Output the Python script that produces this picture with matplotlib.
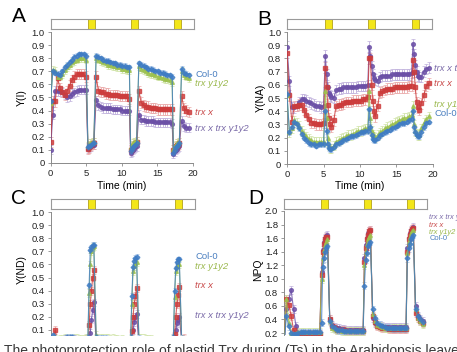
import matplotlib
matplotlib.use("Agg")
import matplotlib.pyplot as plt
from matplotlib.ticker import FuncFormatter, MultipleLocator
from matplotlib.patches import Rectangle

plt.rcParams['font.family'] = ['Liberation Sans', 'DejaVu Sans']

# ---------------- data ----------------
time_min = [0, 0.33, 0.67, 1.0, 1.33, 1.67, 2.0, 2.33, 2.67, 3.0, 3.33, 3.67, 4.0, 4.33, 4.67, 5.0,
            5.25, 5.42, 5.58, 5.75, 5.92, 6.08,
            6.4, 6.73, 7.07, 7.4, 7.73, 8.07, 8.4, 8.73, 9.07, 9.4, 9.73, 10.07, 10.4, 10.73, 11.07,
            11.25, 11.42, 11.58, 11.75, 11.92, 12.08,
            12.4, 12.73, 13.07, 13.4, 13.73, 14.07, 14.4, 14.73, 15.07, 15.4, 15.73, 16.07, 16.4, 16.73, 17.07,
            17.25, 17.42, 17.58, 17.75, 17.92, 18.08,
            18.4, 18.73, 19.07, 19.4]

light_periods = [(5.2, 6.2), (11.15, 12.15), (17.2, 18.2)]

genotypes = ['Col-0', 'trx y1y2', 'trx x', 'trx x trx y1y2']

# Panel A: Y(I)
yI_col0 = [0.47, 0.70, 0.69, 0.68, 0.67, 0.70, 0.73, 0.75, 0.77, 0.79, 0.81, 0.82, 0.83, 0.83, 0.83, 0.82,
           0.12, 0.13, 0.13, 0.14, 0.15, 0.15,
           0.82, 0.81, 0.80, 0.79, 0.78, 0.78, 0.77, 0.76, 0.76, 0.75, 0.75, 0.74, 0.74, 0.73, 0.73,
           0.09, 0.11, 0.12, 0.13, 0.14, 0.15,
           0.76, 0.75, 0.74, 0.73, 0.72, 0.72, 0.71, 0.70, 0.70, 0.69, 0.69, 0.68, 0.67, 0.67, 0.66,
           0.08, 0.10, 0.12, 0.13, 0.14, 0.15,
           0.72, 0.69, 0.68, 0.67]
yI_y1y2 = [0.46, 0.71, 0.70, 0.66, 0.66, 0.68, 0.71, 0.73, 0.75, 0.77, 0.78, 0.79, 0.80, 0.80, 0.80, 0.79,
           0.13, 0.14, 0.15, 0.15, 0.16, 0.16,
           0.80, 0.79, 0.78, 0.77, 0.76, 0.75, 0.75, 0.74, 0.74, 0.73, 0.73, 0.72, 0.72, 0.71, 0.71,
           0.12, 0.14, 0.15, 0.16, 0.16, 0.17,
           0.74, 0.72, 0.71, 0.70, 0.69, 0.68, 0.68, 0.67, 0.66, 0.66, 0.65, 0.64, 0.64, 0.63, 0.62,
           0.11, 0.13, 0.14, 0.15, 0.15, 0.16,
           0.70, 0.67, 0.66, 0.65]
yI_x = [0.16, 0.47, 0.47, 0.65, 0.57, 0.54, 0.52, 0.55, 0.59, 0.63, 0.66, 0.68, 0.68, 0.68, 0.68, 0.66,
        0.11, 0.12, 0.13, 0.14, 0.15, 0.15,
        0.66, 0.55, 0.54, 0.54, 0.53, 0.53, 0.52, 0.52, 0.52, 0.52, 0.51, 0.51, 0.51, 0.51, 0.49,
        0.10, 0.12, 0.13, 0.14, 0.15, 0.16,
        0.55, 0.46, 0.44, 0.43, 0.43, 0.42, 0.42, 0.42, 0.41, 0.41, 0.41, 0.41, 0.41, 0.41, 0.41,
        0.10, 0.12, 0.13, 0.14, 0.14, 0.15,
        0.51, 0.42, 0.40, 0.39]
yI_xy = [0.10, 0.37, 0.55, 0.55, 0.55, 0.54, 0.52, 0.50, 0.51, 0.53, 0.54, 0.55, 0.56, 0.56, 0.56, 0.56,
         0.11, 0.12, 0.13, 0.13, 0.14, 0.14,
         0.48, 0.44, 0.43, 0.42, 0.42, 0.42, 0.42, 0.41, 0.41, 0.41, 0.41, 0.40, 0.40, 0.40, 0.40,
         0.08, 0.09, 0.10, 0.11, 0.12, 0.13,
         0.37, 0.33, 0.33, 0.32, 0.32, 0.32, 0.32, 0.31, 0.31, 0.31, 0.31, 0.31, 0.31, 0.31, 0.30,
         0.07, 0.09, 0.10, 0.11, 0.12, 0.13,
         0.32, 0.28, 0.27, 0.27]

# Panel B: Y(NA)
yNA_col0 = [0.53, 0.24, 0.28, 0.32, 0.30, 0.27, 0.23, 0.20, 0.18, 0.16, 0.15, 0.15, 0.14, 0.15, 0.15, 0.15,
            0.40, 0.25, 0.15, 0.12, 0.11, 0.11,
            0.13, 0.15, 0.16, 0.17, 0.18, 0.19, 0.20, 0.21, 0.21, 0.22, 0.23, 0.24, 0.24, 0.25, 0.25,
            0.42, 0.28, 0.22, 0.19, 0.18, 0.18,
            0.20, 0.22, 0.23, 0.24, 0.25, 0.26, 0.27, 0.28, 0.29, 0.30, 0.31, 0.31, 0.32, 0.33, 0.34,
            0.40, 0.28, 0.24, 0.22, 0.21, 0.21,
            0.24, 0.28, 0.31, 0.32]
yNA_y1y2 = [0.52, 0.24, 0.27, 0.33, 0.31, 0.29, 0.25, 0.23, 0.21, 0.19, 0.18, 0.17, 0.17, 0.17, 0.17, 0.17,
            0.55, 0.35, 0.20, 0.14, 0.12, 0.12,
            0.14, 0.17, 0.18, 0.19, 0.20, 0.21, 0.22, 0.22, 0.23, 0.24, 0.25, 0.25, 0.26, 0.27, 0.27,
            0.55, 0.35, 0.25, 0.22, 0.21, 0.20,
            0.22, 0.24, 0.25, 0.27, 0.28, 0.29, 0.30, 0.31, 0.32, 0.33, 0.34, 0.35, 0.35, 0.36, 0.37,
            0.44, 0.30, 0.25, 0.23, 0.22, 0.22,
            0.27, 0.31, 0.34, 0.36]
yNA_x = [0.84, 0.52, 0.32, 0.44, 0.44, 0.45, 0.45, 0.41, 0.37, 0.34, 0.31, 0.31, 0.30, 0.30, 0.30, 0.31,
         0.73, 0.58, 0.45, 0.35, 0.30, 0.28,
         0.33, 0.44, 0.45, 0.45, 0.46, 0.47, 0.47, 0.47, 0.48, 0.48, 0.48, 0.48, 0.49, 0.49, 0.51,
         0.80, 0.80, 0.60, 0.48, 0.40, 0.36,
         0.44, 0.54, 0.55, 0.56, 0.57, 0.57, 0.57, 0.58, 0.58, 0.58, 0.58, 0.58, 0.58, 0.59, 0.59,
         0.79, 0.70, 0.58, 0.47, 0.43, 0.41,
         0.46, 0.52, 0.59, 0.61]
yNA_xy = [0.89, 0.63, 0.43, 0.43, 0.44, 0.47, 0.49, 0.49, 0.48, 0.47, 0.46, 0.45, 0.44, 0.44, 0.43, 0.44,
          0.82, 0.68, 0.58, 0.54, 0.52, 0.51,
          0.50, 0.56, 0.57, 0.57, 0.58, 0.58, 0.58, 0.58, 0.58, 0.58, 0.59, 0.59, 0.59, 0.59, 0.60,
          0.89, 0.82, 0.74, 0.68, 0.65, 0.64,
          0.63, 0.66, 0.67, 0.67, 0.67, 0.67, 0.68, 0.68, 0.68, 0.68, 0.68, 0.68, 0.68, 0.68, 0.69,
          0.91, 0.83, 0.75, 0.70, 0.67, 0.66,
          0.66, 0.70, 0.72, 0.73]

# Panel C: Y(ND)
yND_col0 = [0.0, 0.06, 0.03, 0.0, 0.03, 0.03, 0.04, 0.05, 0.05, 0.05, 0.04, 0.03, 0.03, 0.02, 0.02, 0.03,
            0.05, 0.44, 0.71, 0.73, 0.75, 0.75,
            0.05, 0.04, 0.04, 0.04, 0.04, 0.03, 0.03, 0.03, 0.03, 0.03, 0.02, 0.02, 0.02, 0.02, 0.02,
            0.05, 0.36, 0.58, 0.63, 0.65, 0.66,
            0.04, 0.03, 0.03, 0.03, 0.03, 0.02, 0.02, 0.02, 0.01, 0.01, 0.0, 0.01, 0.01, 0.0, 0.0,
            0.05, 0.40, 0.57, 0.62, 0.64, 0.64,
            0.04, 0.03, 0.01, 0.01]
yND_y1y2 = [0.02, 0.05, 0.03, 0.01, 0.03, 0.03, 0.04, 0.04, 0.04, 0.04, 0.04, 0.04, 0.03, 0.03, 0.03, 0.04,
            0.03, 0.38, 0.60, 0.70, 0.73, 0.74,
            0.06, 0.04, 0.04, 0.04, 0.04, 0.04, 0.03, 0.04, 0.03, 0.03, 0.02, 0.03, 0.02, 0.02, 0.02,
            0.03, 0.30, 0.55, 0.59, 0.61, 0.62,
            0.04, 0.04, 0.04, 0.03, 0.03, 0.03, 0.02, 0.02, 0.02, 0.01, 0.01, 0.01, 0.01, 0.01, 0.01,
            0.03, 0.35, 0.55, 0.59, 0.60, 0.60,
            0.03, 0.02, 0.0, 0.0]
yND_x = [0.0, 0.01, 0.10, 0.0, 0.0, 0.01, 0.03, 0.04, 0.04, 0.03, 0.03, 0.01, 0.02, 0.02, 0.02, 0.03,
         0.0, 0.14, 0.30, 0.40, 0.50, 0.56,
         0.01, 0.01, 0.01, 0.01, 0.01, 0.0, 0.01, 0.01, 0.0, 0.0, 0.01, 0.01, 0.0, 0.0, 0.0,
         0.0, 0.09, 0.20, 0.30, 0.36, 0.42,
         0.01, 0.0, 0.01, 0.01, 0.0, 0.01, 0.01, 0.0, 0.01, 0.01, 0.01, 0.01, 0.01, 0.0, 0.0,
         0.0, 0.07, 0.20, 0.30, 0.37, 0.43,
         0.03, 0.04, 0.01, 0.0]
yND_xy = [0.01, 0.0, 0.02, 0.02, 0.01, 0.0, 0.0, 0.01, 0.01, 0.0, 0.0, 0.0, 0.0, 0.0, 0.0, 0.0,
          0.0, 0.02, 0.08, 0.18, 0.25, 0.31,
          0.02, 0.0, 0.0, 0.01, 0.0, 0.0, 0.0, 0.01, 0.01, 0.01, 0.0, 0.01, 0.01, 0.01, 0.0,
          0.0, 0.04, 0.10, 0.16, 0.20, 0.22,
          0.0, 0.01, 0.0, 0.01, 0.01, 0.0, 0.0, 0.01, 0.0, 0.0, 0.0, 0.0, 0.0, 0.0, 0.01,
          0.0, 0.05, 0.10, 0.15, 0.18, 0.20,
          0.02, 0.02, 0.01, 0.0]

# Panel D: NPQ
npq_col0 = [0.0, 0.45, 0.30, 0.20, 0.19, 0.19, 0.20, 0.21, 0.21, 0.21, 0.21, 0.21, 0.21, 0.21, 0.21, 0.21,
            0.35, 1.18, 1.30, 1.40, 1.45, 1.48,
            0.38, 0.30, 0.27, 0.25, 0.24, 0.24, 0.23, 0.23, 0.23, 0.23, 0.23, 0.23, 0.23, 0.23, 0.23,
            0.90, 1.28, 1.38, 1.48, 1.52, 1.55,
            0.55, 0.42, 0.35, 0.32, 0.30, 0.29, 0.28, 0.28, 0.27, 0.27, 0.27, 0.27, 0.27, 0.27, 0.27,
            1.30, 1.45, 1.52, 1.58, 1.62, 1.65,
            0.55, 0.45, 0.40, 0.36]
npq_y1y2 = [0.0, 0.70, 0.35, 0.20, 0.19, 0.20, 0.21, 0.22, 0.22, 0.22, 0.22, 0.22, 0.22, 0.22, 0.22, 0.22,
            1.00, 1.30, 1.42, 1.50, 1.55, 1.58,
            0.38, 0.28, 0.26, 0.24, 0.24, 0.23, 0.23, 0.23, 0.23, 0.23, 0.23, 0.23, 0.23, 0.23, 0.23,
            1.20, 1.40, 1.52, 1.58, 1.62, 1.65,
            0.48, 0.38, 0.32, 0.30, 0.29, 0.28, 0.28, 0.27, 0.27, 0.27, 0.27, 0.27, 0.27, 0.27, 0.27,
            1.38, 1.55, 1.62, 1.67, 1.70, 1.72,
            0.55, 0.42, 0.38, 0.34]
npq_x = [0.0, 0.70, 0.62, 0.45, 0.25, 0.20, 0.19, 0.19, 0.19, 0.19, 0.19, 0.19, 0.19, 0.19, 0.19, 0.19,
         1.05, 1.40, 1.52, 1.58, 1.62, 1.62,
         0.40, 0.30, 0.27, 0.25, 0.24, 0.24, 0.24, 0.23, 0.23, 0.23, 0.23, 0.23, 0.23, 0.23, 0.23,
         1.25, 1.45, 1.58, 1.65, 1.70, 1.72,
         0.45, 0.36, 0.31, 0.29, 0.28, 0.27, 0.27, 0.26, 0.26, 0.26, 0.26, 0.26, 0.26, 0.26, 0.26,
         1.40, 1.58, 1.65, 1.70, 1.74, 1.75,
         0.50, 0.42, 0.38, 0.35]
npq_xy = [0.0, 0.55, 0.70, 0.84, 0.55, 0.30, 0.20, 0.19, 0.19, 0.19, 0.19, 0.19, 0.19, 0.19, 0.19, 0.19,
          1.10, 1.42, 1.55, 1.60, 1.63, 1.65,
          0.40, 0.32, 0.29, 0.28, 0.27, 0.26, 0.26, 0.25, 0.25, 0.25, 0.25, 0.25, 0.25, 0.25, 0.25,
          1.30, 1.50, 1.60, 1.67, 1.70, 1.72,
          0.42, 0.35, 0.32, 0.31, 0.30, 0.29, 0.29, 0.29, 0.29, 0.29, 0.29, 0.29, 0.29, 0.29, 0.29,
          1.45, 1.60, 1.68, 1.72, 1.74, 1.76,
          0.60, 0.45, 0.40, 0.38]

# typical error bar size per genotype (Col-0, trx y1y2, trx x, trx x trx y1y2)
err_I = [0.02, 0.03, 0.04, 0.035]
err_NA = [0.02, 0.035, 0.04, 0.04]
err_ND = [0.02, 0.03, 0.03, 0.03]
err_NPQ = [0.05, 0.06, 0.06, 0.06]

caption = 'The photoprotection role of plastid Trx during (Ts) in the Arabidopsis leaves'

# ---------------- style ----------------
colors = ['#3f7cc4', '#9cc14e', '#cc3b3b', '#6b4fa6']
light_colors = ['#a6c3e8', '#cfe3a6', '#eaa8a8', '#bfb0dc']
markers = ['D', '^', 's', 'o']
msizes = [2.4, 2.7, 2.7, 2.7]
label_colors = ['#4a7fc0', '#9ab84c', '#c84848', '#7a6aa8']

W, H = 457, 352
fig = plt.figure(figsize=(W / 100, H / 100), dpi=100)


def px_axes(left, top, right, bottom):
    return fig.add_axes([left / W, (H - bottom) / H, (right - left) / W, (bottom - top) / H])


def style_axes(ax, show_x=True):
    for s in ['top', 'right']:
        ax.spines[s].set_visible(False)
    ax.spines['left'].set_color('#8a8a8a')
    ax.spines['left'].set_linewidth(0.7)
    ax.spines['bottom'].set_color('#8a8a8a')
    ax.spines['bottom'].set_linewidth(0.7)
    ax.tick_params(axis='both', labelsize=6.8, colors='#8a8a8a', labelcolor='#222222',
                   length=2.2, width=0.6, pad=2)
    if not show_x:
        ax.spines['bottom'].set_visible(False)
        ax.tick_params(axis='x', bottom=False, labelbottom=False)
    ax.patch.set_alpha(0)


def draw_series(ax, ys, errs):
    order = [3, 2, 1, 0]
    for i in order:
        ax.errorbar(time_min, ys[i], yerr=errs[i], fmt='none', ecolor=light_colors[i],
                    elinewidth=0.6, capsize=1.2, capthick=0.5, zorder=2)
    for i in order:
        ax.plot(time_min, ys[i], color=colors[i], lw=0.8, alpha=0.8,
                marker=markers[i], ms=msizes[i], mec=colors[i], mfc=colors[i], zorder=3)


def light_bar(left, top, right, bottom):
    bx = px_axes(left, top, right, bottom)
    bx.set_xlim(0, 20)
    bx.set_ylim(0, 1)
    bx.set_xticks([])
    bx.set_yticks([])
    for s in bx.spines.values():
        s.set_color('#9a9a9a')
        s.set_linewidth(0.8)
    for (a, b) in light_periods:
        bx.add_patch(Rectangle((a, 0), b - a, 1, facecolor='#f3e61a', edgecolor='#b5a21a', lw=0.6))


fmt1 = FuncFormatter(lambda v, p: '0' if abs(v) < 1e-9 else f'{v:.1f}')

# ---------------- Panel A ----------------
axA = px_axes(50.5, 32, 193, 163)
draw_series(axA, [yI_col0, yI_y1y2, yI_x, yI_xy], err_I)
axA.set_xlim(0, 20)
axA.set_ylim(0, 1.0)
axA.yaxis.set_major_locator(MultipleLocator(0.1))
axA.yaxis.set_major_formatter(fmt1)
axA.set_xticks([0, 5, 10, 15, 20])
style_axes(axA)
light_bar(50.5, 19, 194, 29)
labA_y = [0.672, 0.608, 0.384, 0.265]
for i in range(4):
    axA.text(20.3, labA_y[i], genotypes[i], color=label_colors[i], fontsize=6.8,
             style='normal' if i == 0 else 'italic', va='center', ha='left', clip_on=False)

# ---------------- Panel B ----------------
axB = px_axes(287, 32, 433, 164)
draw_series(axB, [yNA_col0, yNA_y1y2, yNA_x, yNA_xy], err_NA)
axB.set_xlim(0, 20)
axB.set_ylim(0, 1.0)
axB.yaxis.set_major_locator(MultipleLocator(0.1))
axB.yaxis.set_major_formatter(fmt1)
axB.set_xticks([0, 5, 10, 15, 20])
style_axes(axB)
light_bar(287, 19, 432, 29)
labB_y = [0.38, 0.45, 0.61, 0.727]
for i in range(4):
    axB.text(20.15, labB_y[i], genotypes[i], color=label_colors[i], fontsize=6.8,
             style='normal' if i == 0 else 'italic', va='center', ha='left', clip_on=False)

# ---------------- Panel C ----------------
c_bottom_val = 0.1 - (335 - 330) / 131.0
axC = px_axes(50.5, 212, 193, 335)
draw_series(axC, [yND_col0, yND_y1y2, yND_x, yND_xy], err_ND)
axC.set_xlim(0, 20)
axC.set_ylim(c_bottom_val, 1.0)
axC.set_yticks([0.1, 0.2, 0.3, 0.4, 0.5, 0.6, 0.7, 0.8, 0.9, 1.0])
axC.yaxis.set_major_formatter(fmt1)
style_axes(axC, show_x=False)
light_bar(50.5, 199, 195, 209)
labC_y = [0.664, 0.588, 0.443, 0.214]
for i in range(4):
    axC.text(20.3, labC_y[i], genotypes[i], color=label_colors[i], fontsize=6.8,
             style='normal' if i == 0 else 'italic', va='center', ha='left', clip_on=False)

# ---------------- Panel D ----------------
d_bottom_val = 0.2 - (335 - 333) / 67.8
axD = px_axes(284, 211, 427, 335)
draw_series(axD, [npq_col0, npq_y1y2, npq_x, npq_xy], err_NPQ)
axD.set_xlim(0, 20)
axD.set_ylim(d_bottom_val, 2.0)
axD.set_yticks([0.2, 0.4, 0.6, 0.8, 1.0, 1.2, 1.4, 1.6, 1.8, 2.0])
axD.yaxis.set_major_formatter(fmt1)
style_axes(axD, show_x=False)
light_bar(284, 199, 427, 209)
labD_y = [1.587, 1.69, 1.79, 1.897]
for i in range(4):
    axD.text(20.3, labD_y[i], genotypes[i], color=label_colors[i], fontsize=5.4,
             style='normal' if i == 0 else 'italic', va='center', ha='left', clip_on=False)

# ---------------- labels ----------------
fig.text(19 / W, 1 - 17 / H, 'A', fontsize=15, ha='center', va='center')
fig.text(264 / W, 1 - 19.5 / H, 'B', fontsize=15, ha='center', va='center')
fig.text(18.5 / W, 1 - 199 / H, 'C', fontsize=15, ha='center', va='center')
fig.text(255.5 / W, 1 - 199 / H, 'D', fontsize=15, ha='center', va='center')

fig.text(22 / W, 1 - 98 / H, 'Y(I)', fontsize=7.5, rotation=90, ha='center', va='center')
fig.text(261 / W, 1 - 98 / H, 'Y(NA)', fontsize=7.5, rotation=90, ha='center', va='center')
fig.text(22 / W, 1 - 270 / H, 'Y(ND)', fontsize=7.5, rotation=90, ha='center', va='center')
fig.text(258 / W, 1 - 270 / H, 'NPQ', fontsize=7.5, rotation=90, ha='center', va='center')

fig.text(122 / W, 1 - 186 / H, 'Time (min)', fontsize=7.5, ha='center', va='center')
fig.text(360 / W, 1 - 186 / H, 'Time (min)', fontsize=7.5, ha='center', va='center')

fig.text(4 / W, (H - 355) / H, caption,
         fontsize=10, color='#3a3a3a', ha='left', va='baseline')

fig.savefig('out.png', dpi=100)
